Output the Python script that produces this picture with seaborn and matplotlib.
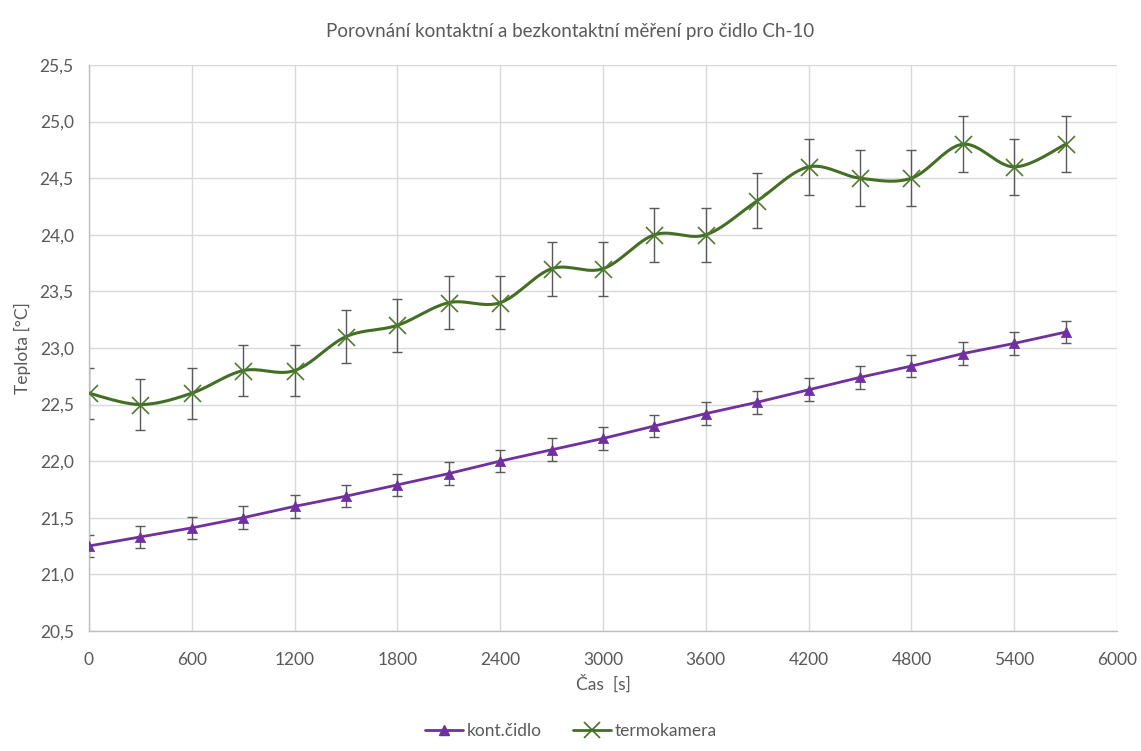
import numpy as np
import pandas as pd
import matplotlib
matplotlib.use("Agg")
import matplotlib.pyplot as plt
from matplotlib.ticker import FuncFormatter, MultipleLocator
from matplotlib.lines import Line2D
import seaborn as sns

# ---- data ----
cas = [0, 300, 600, 900, 1200, 1500, 1800, 2100, 2400, 2700,
       3000, 3300, 3600, 3900, 4200, 4500, 4800, 5100, 5400, 5700]
kont_cidlo = [21.25, 21.33, 21.41, 21.50, 21.60, 21.69, 21.79, 21.89, 22.00, 22.10,
              22.20, 22.31, 22.42, 22.52, 22.63, 22.74, 22.84, 22.95, 23.04, 23.14]
kont_err = [0.1] * 20
termokamera = [22.6, 22.5, 22.6, 22.8, 22.8, 23.1, 23.2, 23.4, 23.4, 23.7,
               23.7, 24.0, 24.0, 24.3, 24.6, 24.5, 24.5, 24.8, 24.6, 24.8]
termo_err_pct = 0.01

title = "Porovnání kontaktní a bezkontaktní měření pro čidlo Ch-10"
xlabel = "Čas  [s]"
ylabel = "Teplota [°C]"
labels = ["kont.čidlo", "termokamera"]

PURPLE = "#7030A0"
GREEN = "#436F25"
GRAY = "#595959"

sns.set_theme(style="white")
plt.rcParams["font.family"] = ["Lato", "DejaVu Sans"]

fig = plt.figure(figsize=(11.41, 7.51), dpi=100)
ax = fig.add_axes([0.078, 0.16, 0.901, 0.7534])

x = np.array(cas, dtype=float)
y1 = np.array(kont_cidlo)
y2 = np.array(termokamera)
e2 = y2 * termo_err_pct


def catmull_rom(xs, ys, n=30):
    px = np.concatenate([[xs[0]], xs, [xs[-1]]])
    py = np.concatenate([[ys[0]], ys, [ys[-1]]])
    outx, outy = [], []
    for i in range(1, len(px) - 2):
        p0 = np.array([px[i - 1], py[i - 1]]); p1 = np.array([px[i], py[i]])
        p2 = np.array([px[i + 1], py[i + 1]]); p3 = np.array([px[i + 2], py[i + 2]])
        c1 = p1 + (p2 - p0) / 6.0
        c2 = p2 - (p3 - p1) / 6.0
        t = np.linspace(0, 1, n, endpoint=(i == len(px) - 3))[:, None]
        b = ((1 - t) ** 3) * p1 + 3 * ((1 - t) ** 2) * t * c1 + 3 * (1 - t) * t ** 2 * c2 + t ** 3 * p2
        outx.extend(b[:, 0]); outy.extend(b[:, 1])
    return np.array(outx), np.array(outy)


# error bars
ax.errorbar(x, y1, yerr=kont_err, fmt="none", ecolor=GRAY, elinewidth=1.0,
            capsize=3.5, capthick=1.0, zorder=2)
ax.errorbar(x, y2, yerr=e2, fmt="none", ecolor=GRAY, elinewidth=1.0,
            capsize=3.5, capthick=1.0, zorder=2)

# kont.čidlo straight line
df1 = pd.DataFrame({"x": x, "y": y1})
sns.lineplot(data=df1, x="x", y="y", ax=ax, color=PURPLE, linewidth=2.0, zorder=3)
sns.scatterplot(data=df1, x="x", y="y", ax=ax, marker="^", s=55, color=PURPLE,
                edgecolor=PURPLE, linewidth=0.5, zorder=4)

# termokamera smoothed line
sx, sy = catmull_rom(x, y2)
df2s = pd.DataFrame({"x": sx, "y": sy})
sns.lineplot(data=df2s, x="x", y="y", ax=ax, color=GREEN, linewidth=2.2,
             sort=False, estimator=None, zorder=3)
df2 = pd.DataFrame({"x": x, "y": y2})
ax.scatter(df2["x"], df2["y"], marker="x", s=150, color="#4E7A2E", linewidths=1.2, zorder=4)

ax.set_xlim(0, 6000)
ax.set_ylim(20.5, 25.5)
ax.xaxis.set_major_locator(MultipleLocator(600))
ax.yaxis.set_major_locator(MultipleLocator(0.5))
ax.yaxis.set_major_formatter(FuncFormatter(lambda v, p: f"{v:.1f}".replace(".", ",")))
ax.xaxis.set_major_formatter(FuncFormatter(lambda v, p: f"{v:.0f}"))

ax.grid(True, color="#D9D9D9", linewidth=1.0)
ax.set_axisbelow(True)
for side in ["top", "right"]:
    ax.spines[side].set_visible(False)
for side in ["left", "bottom"]:
    ax.spines[side].set_color("#BFBFBF")
    ax.spines[side].set_linewidth(1.0)

ax.tick_params(axis="both", labelsize=12.5, colors=GRAY, length=0)
ax.tick_params(axis="x", pad=15)
ax.tick_params(axis="y", pad=11)
ax.set_xlabel(xlabel, fontsize=12.5, color=GRAY, labelpad=5)
ax.set_ylabel(ylabel, fontsize=12.5, color=GRAY, labelpad=6)
fig.suptitle(title, fontsize=13.5, color=GRAY, y=0.97)

handles = [
    Line2D([0], [0], color=PURPLE, lw=2, marker="^", markersize=7, markeredgecolor=PURPLE),
    Line2D([0], [0], color=GREEN, lw=2, marker="x", markersize=11, markeredgewidth=1.2),
]
fig.legend(handles, labels, loc="center", bbox_to_anchor=(0.5, 0.027), ncol=2,
           frameon=False, fontsize=12.5, labelcolor=GRAY, handlelength=2.2,
           handletextpad=0.2, columnspacing=1.8)

fig.savefig("out.png", dpi=100, facecolor="white")
